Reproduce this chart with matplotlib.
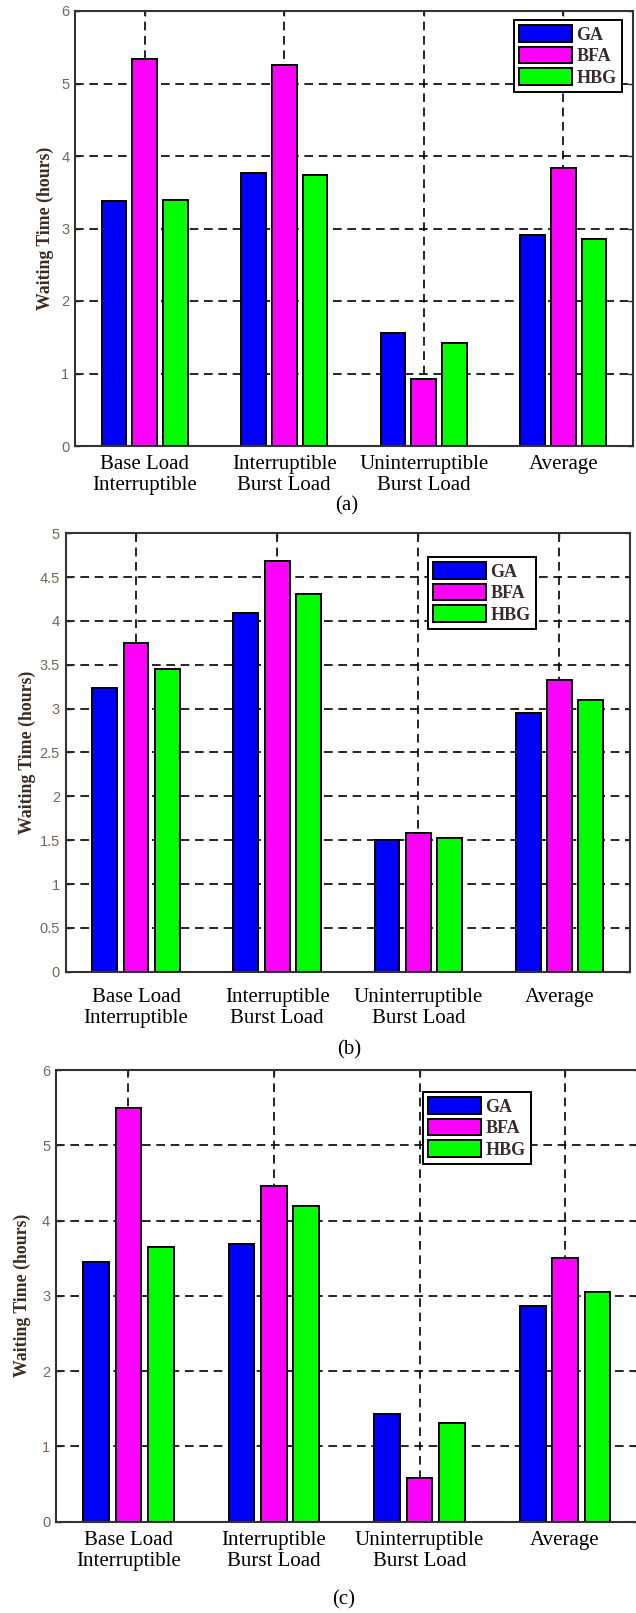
import numpy as np
import matplotlib
matplotlib.use("Agg")
import matplotlib.pyplot as plt
from matplotlib.ticker import FuncFormatter
from matplotlib.transforms import blended_transform_factory

# waiting time (hours) per load type, for each algorithm and scenario
categories = ["Base Load\nInterruptible", "Interruptible\nBurst Load",
              "Uninterruptible\nBurst Load", "Average"]
series = ["GA", "BFA", "HBG"]
colors = ["#0000FF", "#FF00FF", "#00FF00"]

ga_a = [3.38, 3.77, 1.56, 2.91]
bfa_a = [5.34, 5.26, 0.92, 3.84]
hbg_a = [3.40, 3.74, 1.42, 2.85]

ga_b = [3.24, 4.09, 1.50, 2.95]
bfa_b = [3.75, 4.68, 1.58, 3.33]
hbg_b = [3.45, 4.31, 1.53, 3.10]

ga_c = [3.45, 3.69, 1.43, 2.86]
bfa_c = [5.50, 4.46, 0.58, 3.50]
hbg_c = [3.65, 4.19, 1.31, 3.05]

yticks_a = [0, 1, 2, 3, 4, 5, 6]
yticks_b = [0, 0.5, 1, 1.5, 2, 2.5, 3, 3.5, 4, 4.5, 5]
yticks_c = [0, 1, 2, 3, 4, 5, 6]

W, H = 636, 1613
fig = plt.figure(figsize=(W / 100, H / 100), dpi=100)
fig.patch.set_facecolor("white")

SERIF = "Liberation Serif"
SANS = "Liberation Sans"


def px_axes(x0, y0, x1, y1):
    return fig.add_axes([x0 / W, 1 - y1 / H, (x1 - x0) / W, (y1 - y0) / H])


def fmt(v, _):
    return f"{v:g}"


def panel(ax, ga, bfa, hbg, yticks, ylab_x, leg_xy, label_pad, caption, cap_xy):
    x = np.arange(1, len(categories) + 1)
    off = 0.222
    bw = 0.176
    for i, (vals, c, name) in enumerate(zip([ga, bfa, hbg], colors, series)):
        ax.bar(x + (i - 1) * off, vals, bw, color=c, edgecolor="black",
               linewidth=1.4, label=name, zorder=2)
    ax.set_xlim(0.5, 4.5)
    ax.set_ylim(yticks[0], yticks[-1])
    ax.set_yticks(yticks)
    ax.yaxis.set_major_formatter(FuncFormatter(fmt))
    ax.set_xticks(x)
    ax.set_xticklabels(categories, fontfamily=SERIF, fontsize=15,
                       linespacing=1.15)
    ax.set_axisbelow(True)
    ax.grid(True, color="black", linestyle=(0, (5.2, 3.4)), linewidth=1.2)
    ax.tick_params(direction="in", length=3.6, width=1.0, top=True, right=True,
                   color="#222222")
    ax.tick_params(axis="x", pad=label_pad)
    ax.tick_params(axis="y", pad=4, labelsize=10.5, labelcolor="#7a6450")
    for lab in ax.get_yticklabels():
        lab.set_fontfamily(SANS)
    for s in ax.spines.values():
        s.set_linewidth(1.5)
        s.set_color("#333333")
    ax.set_ylabel("Waiting Time (hours)", fontfamily=SERIF, fontsize=12.8,
                  fontweight="bold", color="#3d2b1f")
    ax.yaxis.set_label_coords(ylab_x, 0.5,
                              transform=blended_transform_factory(fig.transFigure, ax.transAxes))
    ax.yaxis.label.set_va("center")

    leg = ax.legend(loc="upper left",
                    bbox_to_anchor=(leg_xy[0] / W, 1 - leg_xy[1] / H),
                    bbox_transform=fig.transFigure, borderaxespad=0,
                    prop={"family": SERIF, "size": 13, "weight": "bold"},
                    handlelength=2.9, handleheight=1.0, labelspacing=0.18,
                    handletextpad=0.25, borderpad=0.3, fancybox=False,
                    framealpha=1, edgecolor="black")
    leg.get_frame().set_linewidth(1.4)
    for t in leg.get_texts():
        t.set_color("#3a2a2a")

    fig.text(cap_xy[0] / W, 1 - cap_xy[1] / H, caption, fontfamily=SERIF,
             fontsize=15, ha="center", va="center")


ax_a = px_axes(75, 11, 633, 446)
panel(ax_a, ga_a, bfa_a, hbg_a, yticks_a, 45 / W, (514, 20), 6.5, "(a)", (347, 506))

ax_b = px_axes(65.5, 533.3, 630, 971.7)
panel(ax_b, ga_b, bfa_b, hbg_b, yticks_b, 27 / W, (428, 557), 12, "(b)", (349, 1050))

ax_c = px_axes(55.7, 1070, 637.8, 1521.7)
panel(ax_c, ga_c, bfa_c, hbg_c, yticks_c, 22 / W, (423, 1092), 6.5, "(c)", (344, 1600))

fig.savefig("out.png", dpi=100, facecolor="white")
